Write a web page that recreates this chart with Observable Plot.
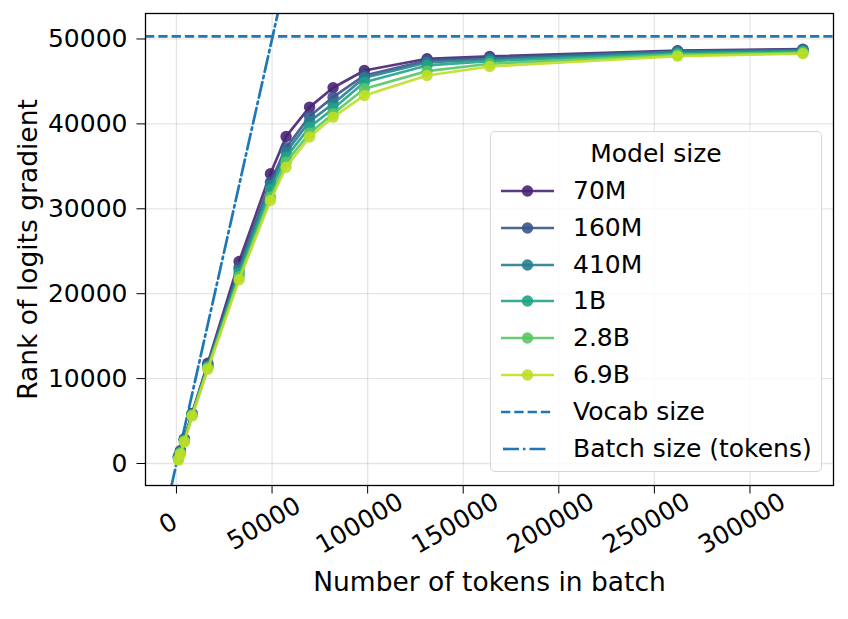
<!DOCTYPE html>
<html>
<head>
<meta charset="utf-8">
<script src="https://cdn.jsdelivr.net/npm/d3@7"></script>
<script src="https://cdn.jsdelivr.net/npm/@observablehq/plot@0.6"></script>
<style>
  html, body { margin: 0; padding: 0; background: #fff; }
  #wrap { position: relative; width: 848px; height: 619px; font-family: "DejaVu Sans", sans-serif; }
  #wrap svg.plot { position: absolute; left: 0; top: 0; }
  #legend {
    position: absolute; left: 490px; top: 131px; width: 332px; height: 341px;
    box-sizing: border-box; border: 1px solid #d6d6d6; border-radius: 5px;
    background: rgba(255,255,255,0.8); font-size: 25px; color: #000;
  }
  #legend .title { position: absolute; left: 0; width: 100%; top: 7px; text-align: center; line-height: 30px; }
  #legend .row { position: absolute; left: 0; height: 30px; width: 100%; }
  #legend .row svg { position: absolute; left: 0; top: 0; }
  #legend .row span { position: absolute; left: 82px; top: 0; line-height: 30px; white-space: nowrap; }
</style>
</head>
<body>
<div id="wrap"></div>
<script>
// Number of tokens per batch (x positions shared by every model)
const tokens = [1024, 2048, 4096, 8192, 16384, 32768, 49152, 57344, 69632, 81920, 98304, 131072, 163840, 262144, 327680];

// Model sizes, smallest to largest
const models = ["70M", "160M", "410M", "1B", "2.8B", "6.9B"];

// Rank of the logits gradient for each model, one value per batch size
const rank70M  = [850, 1500, 2900, 5900, 11800, 23790, 34120, 38520, 41970, 44250, 46290, 47670, 47940, 48620, 48800];
const rank160M = [780, 1450, 2850, 5850, 11600, 23100, 33130, 37180, 40900, 43150, 45700, 47470, 47790, 48550, 48750];
const rank410M = [700, 1400, 2800, 5800, 11500, 22800, 32740, 36670, 40300, 42370, 45430, 47230, 47620, 48500, 48700];
const rank1B   = [620, 1300, 2750, 5750, 11400, 22400, 32240, 36080, 39600, 41780, 44910, 46880, 47390, 48350, 48550];
const rank2_8B = [520, 1200, 2650, 5700, 11250, 22000, 31370, 35490, 38900, 41190, 44130, 46210, 47080, 48150, 48400];
const rank6_9B = [400, 1100, 2550, 5600, 11100, 21640, 30980, 34900, 38450, 40790, 43350, 45700, 46760, 47980, 48270];

// Reference lines
const vocabSize = 50304;

// Axis ticks
const xTicks = [0, 50000, 100000, 150000, 200000, 250000, 300000];
const yTicks = [0, 10000, 20000, 30000, 40000, 50000];

// Axis limits
const xLim = [-16200, 343700];
const yLim = [-2590, 53000];

const seriesValues = [rank70M, rank160M, rank410M, rank1B, rank2_8B, rank6_9B];
const rows = models.flatMap((m, i) => tokens.map((t, j) => ({model: m, tokens: t, rank: seriesValues[i][j]})));

// viridis colours spread over 0.1 .. 0.9
const colors = models.map((_, i) => d3.interpolateViridis(0.1 + 0.16 * i));
const blue = "#1f77b4";
const font = "DejaVu Sans, sans-serif";
const lw = 2.7;
const dotR = 5.7;
const dash = "9.3,4";
const dashDot = "16,4,2.5,4";

// Each model drawn as line then markers, in order, so later models sit on top
const seriesMarks = models.flatMap((m) => {
  const d = rows.filter((r) => r.model === m);
  return [
    Plot.line(d, {x: "tokens", y: "rank", stroke: "model", strokeWidth: lw, strokeOpacity: 0.9}),
    Plot.dot(d, {x: "tokens", y: "rank", fill: "model", r: dotR, fillOpacity: 0.9, stroke: "none"})
  ];
});

const chart = Plot.plot({
  width: 848,
  height: 619,
  marginTop: 13,
  marginLeft: 145,
  marginRight: 15,
  marginBottom: 134,
  style: {fontFamily: font, fontSize: "25px", background: "transparent", overflow: "visible"},
  x: {domain: xLim},
  y: {domain: yLim},
  color: {domain: models, range: colors},
  marks: [
    Plot.gridX(xTicks, {stroke: "#000", strokeOpacity: 0.1, strokeWidth: 1.3}),
    Plot.gridY(yTicks, {stroke: "#000", strokeOpacity: 0.1, strokeWidth: 1.3}),
    Plot.ruleY([vocabSize], {stroke: blue, strokeWidth: lw, strokeDasharray: dash}),
    // rank can never exceed batch size: the y = x line
    Plot.line(yLim, {x: (d) => d, y: (d) => d, stroke: blue, strokeWidth: lw, strokeDasharray: dashDot, clip: true}),
    ...seriesMarks,
    Plot.axisY({ticks: yTicks, tickSize: 8.5, tickPadding: 9.5, fontSize: 25, label: null, tickFormat: (d) => String(d)}),
    Plot.axisX({ticks: xTicks, tickSize: 8.5, tickFormat: () => "", label: null}),
    Plot.text(xTicks, {x: (d) => d, text: (d) => String(d), frameAnchor: "bottom", dy: 45, dx: -4, rotate: -30, textAnchor: "middle", fontSize: 25}),
    Plot.text(["Number of tokens in batch"], {frameAnchor: "bottom", dy: 105, fontSize: 26.5}),
    Plot.text(["Rank of logits gradient"], {frameAnchor: "left", dx: -117, rotate: -90, textAnchor: "middle", fontSize: 26.5}),
    Plot.frame({stroke: "#000", strokeWidth: 1.3})
  ]
});

const wrap = document.getElementById("wrap");
wrap.appendChild(chart);

// Legend
const legend = document.createElement("div");
legend.id = "legend";
const title = document.createElement("div");
title.className = "title";
title.textContent = "Model size";
legend.appendChild(title);

const svgNS = "http://www.w3.org/2000/svg";
const entries = [
  ...models.map((m, i) => ({label: m, color: colors[i], kind: "series"})),
  {label: "Vocab size", color: blue, kind: "dash"},
  {label: "Batch size (tokens)", color: blue, kind: "dashdot"}
];
entries.forEach((e, i) => {
  const row = document.createElement("div");
  row.className = "row";
  row.style.top = (44 + i * 36.8) + "px";
  const s = document.createElementNS(svgNS, "svg");
  s.setAttribute("width", 70);
  s.setAttribute("height", 30);
  const ln = document.createElementNS(svgNS, "line");
  ln.setAttribute("x1", e.kind === "dashdot" ? 12 : 10);
  ln.setAttribute("x2", e.kind === "dashdot" ? 58 : 63);
  ln.setAttribute("y1", 15);
  ln.setAttribute("y2", 15);
  ln.setAttribute("stroke", e.color);
  ln.setAttribute("stroke-width", lw);
  if (e.kind === "series") ln.setAttribute("stroke-opacity", 0.9);
  if (e.kind === "dash") ln.setAttribute("stroke-dasharray", dash);
  if (e.kind === "dashdot") ln.setAttribute("stroke-dasharray", dashDot);
  s.appendChild(ln);
  if (e.kind === "series") {
    const c = document.createElementNS(svgNS, "circle");
    c.setAttribute("cx", 36.5);
    c.setAttribute("cy", 15);
    c.setAttribute("r", dotR);
    c.setAttribute("fill", e.color);
    c.setAttribute("fill-opacity", 0.9);
    s.appendChild(c);
  }
  row.appendChild(s);
  const sp = document.createElement("span");
  sp.textContent = e.label;
  row.appendChild(sp);
  legend.appendChild(row);
});
wrap.appendChild(legend);
</script>
</body>
</html>
